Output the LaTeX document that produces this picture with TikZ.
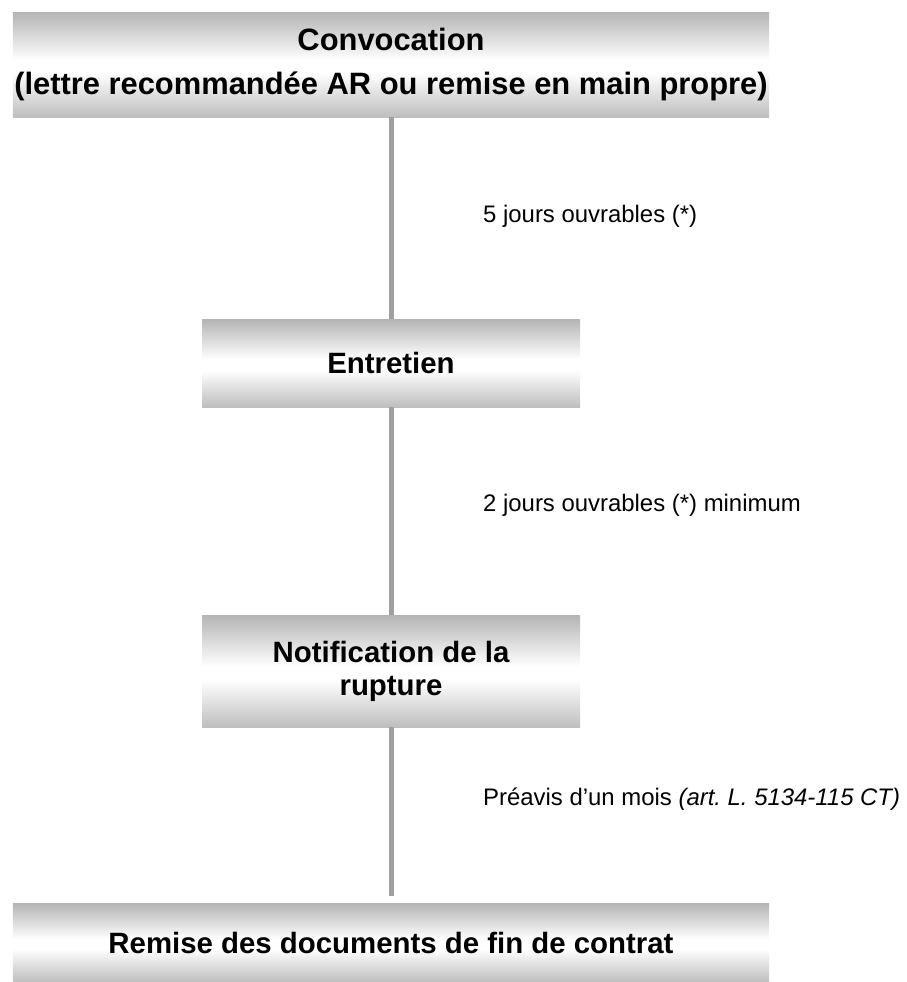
\documentclass[tikz,border=0pt]{standalone}
\usepackage{fontspec}
\setmainfont{Liberation Sans}
\usetikzlibrary{arrows.meta}
\frenchspacing

\definecolor{boxgraytop}{RGB}{180,180,180}
\definecolor{boxgraybot}{RGB}{190,190,190}
\definecolor{linkgray}{RGB}{160,160,160}
\pgfdeclareverticalshading{boxshade}{100bp}{%
    color(0bp)=(boxgraybot); color(25bp)=(boxgraybot);
    color(46bp)=(white); color(52bp)=(white);
    color(75bp)=(boxgraytop); color(100bp)=(boxgraytop)}

\begin{document}
\begin{tikzpicture}[%
    x=1bp, y=-1bp,
    stagebox/.style={
        rectangle,
        shading=boxshade,
        inner sep=0pt,
        align=center,
        font=\fontsize{29.5}{33}\selectfont\bfseries
        },
    widebox/.style={stagebox, minimum width=756bp},
    narrowbox/.style={stagebox, minimum width=378bp},
    link/.style={draw=linkgray, line width=5bp},
    delay/.style={anchor=base west, inner sep=0pt,
        font=\fontsize{24}{28}\selectfont},
]

\useasboundingbox (0,0) rectangle (907,982);

% steps
\node[widebox, minimum height=105bp, font=\fontsize{31}{44}\selectfont\bfseries]
    (convocation) at (391,64.5)
    {Convocation\\(lettre recommandée AR ou remise en main propre)};
\node[narrowbox, minimum height=88bp] (entretien) at (391,363) {Entretien};
\node[narrowbox, minimum height=112bp] (notification) at (391,671)
    {Notification de la\\rupture};
\node[widebox, minimum height=79bp] (remise) at (391,942.5)
    {Remise des documents de fin de contrat};

% links
\draw[link] (convocation.south) -- (entretien.north);
\draw[link] (entretien.south) -- (notification.north);
\draw[link, shorten >=7bp] (notification.south) -- (remise.north);

% delays
\node[delay] (delai1) at (483,222) {5 jours ouvrables (*)};
\node[delay] (delai2) at (483,511) {2 jours ouvrables (*) minimum};
\node[delay] (delai3) at (483,805)
    {Préavis d’un mois \textit{(art. L. 5134-115 CT)}};
\end{tikzpicture}
\end{document}
